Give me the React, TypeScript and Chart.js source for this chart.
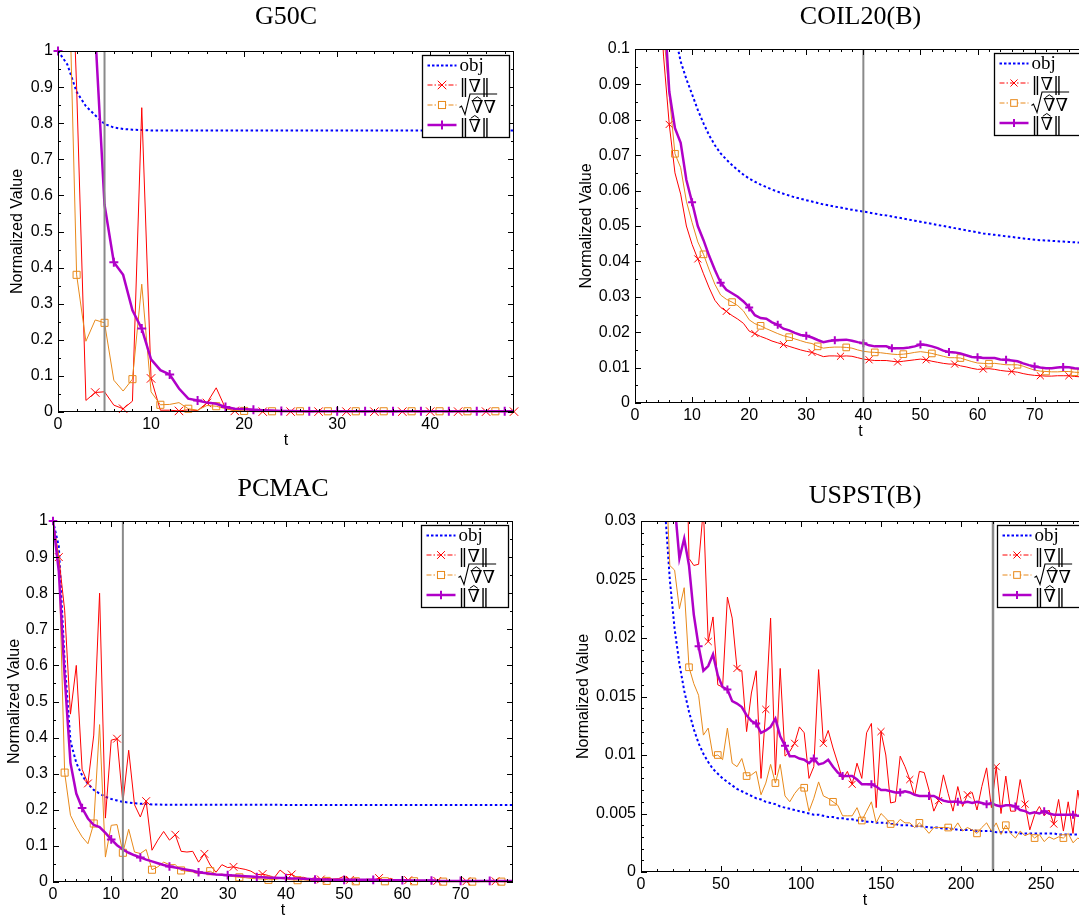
import React, { useEffect, useRef } from "react";
import { Chart, registerables } from "chart.js";

Chart.register(...registerables);

// ---------------- G50C ----------------
const g50cObj = [
  1, 0.963, 0.887, 0.847, 0.822, 0.798, 0.788, 0.784, 0.782, 0.781,
  0.78, 0.78, 0.78, 0.78, 0.78, 0.78, 0.78, 0.78, 0.78, 0.78,
  0.78, 0.78, 0.78, 0.78, 0.78, 0.78, 0.78, 0.78, 0.78, 0.78,
  0.78, 0.78, 0.78, 0.78, 0.78, 0.78, 0.78, 0.78, 0.78, 0.78,
  0.78, 0.78, 0.78, 0.78, 0.78, 0.78, 0.78, 0.78, 0.78, 0.78,
];
const g50cGrad = [
  1, 1.6, 0.9, 0.032, 0.054, 0.056, 0.019, 0.009, 0.03, 0.843,
  0.093, 0.005, 0.005, 0.003, 0.006, 0.004, 0.025, 0.067, 0.01, 0.003,
  0.002, 0.001, 0.001, 0.001, 0.001, 0.001, 0.001, 0.001, 0.001, 0.001,
  0.001, 0.001, 0.001, 0.001, 0.001, 0.001, 0.001, 0.001, 0.001, 0.001,
  0.001, 0.001, 0.001, 0.001, 0.001, 0.001, 0.001, 0.001, 0.001, 0.001,
];
const g50cSqrt = [
  1, 1.4, 0.38, 0.196, 0.255, 0.247, 0.088, 0.058, 0.091, 0.354,
  0.056, 0.02, 0.021, 0.026, 0.009, 0.005, 0.018, 0.016, 0.009, 0.004,
  0.003, 0.002, 0.002, 0.002, 0.002, 0.002, 0.002, 0.002, 0.002, 0.002,
  0.002, 0.002, 0.002, 0.002, 0.002, 0.002, 0.002, 0.002, 0.002, 0.002,
  0.002, 0.002, 0.002, 0.002, 0.002, 0.002, 0.002, 0.002, 0.002, 0.002,
];
const g50cHat = [
  1, 1.6, 1.55, 1.45, 1.05, 0.574, 0.415, 0.38, 0.282, 0.231,
  0.146, 0.116, 0.104, 0.065, 0.037, 0.032, 0.026, 0.023, 0.014, 0.009,
  0.008, 0.006, 0.005, 0.004, 0.003, 0.003, 0.002, 0.002, 0.002, 0.002,
  0.002, 0.002, 0.002, 0.002, 0.002, 0.002, 0.002, 0.002, 0.002, 0.002,
  0.002, 0.002, 0.002, 0.002, 0.002, 0.002, 0.002, 0.002, 0.002, 0.002,
];
const g50cXTicks = [0, 10, 20, 30, 40];
const g50cYTicks = [0, 0.1, 0.2, 0.3, 0.4, 0.5, 0.6, 0.7, 0.8, 0.9, 1];
const g50cYLabels = ["0", "0.1", "0.2", "0.3", "0.4", "0.5", "0.6", "0.7", "0.8", "0.9", "1"];

// ---------------- COIL20(B) ----------------
const coilObj = [
  1, 0.6, 0.35, 0.23, 0.17, 0.135, 0.115, 0.104, 0.0965, 0.0915,
  0.0872, 0.0828, 0.079, 0.0756, 0.0728, 0.0705, 0.0688, 0.0672, 0.0658, 0.0645,
  0.0634, 0.0625, 0.0617, 0.061, 0.0603, 0.0597, 0.0591, 0.0586, 0.0581, 0.0577,
  0.0573, 0.0569, 0.0565, 0.0561, 0.0558, 0.0555, 0.0552, 0.0549, 0.0546, 0.0543,
  0.0541, 0.0538, 0.0535, 0.0532, 0.053, 0.0527, 0.0524, 0.0521, 0.0518, 0.0515,
  0.0512, 0.0509, 0.0506, 0.0503, 0.05, 0.0497, 0.0494, 0.0491, 0.0488, 0.0485,
  0.0482, 0.0479, 0.0477, 0.0475, 0.0473, 0.0471, 0.0469, 0.0467, 0.0465, 0.0463,
  0.0461, 0.046, 0.0459, 0.0458, 0.0457, 0.0456, 0.0455, 0.0454, 0.0453, 0.0452,
];
const coilGrad = [
  1, 0.6, 0.35, 0.2, 0.125, 0.098, 0.0787, 0.065, 0.059, 0.05,
  0.0448, 0.0407, 0.0365, 0.0325, 0.029, 0.027, 0.0259, 0.0247, 0.0237, 0.0225,
  0.0203, 0.0196, 0.0188, 0.0182, 0.0175, 0.017, 0.0165, 0.016, 0.0155, 0.015,
  0.0146, 0.0143, 0.0137, 0.0131, 0.0133, 0.0133, 0.0132, 0.0133, 0.0132, 0.0128,
  0.0124, 0.0122, 0.012, 0.012, 0.012, 0.0118, 0.0116, 0.0118, 0.012, 0.0122,
  0.0124, 0.0122, 0.0118, 0.0115, 0.0112, 0.011, 0.011, 0.0105, 0.0102, 0.0098,
  0.0095, 0.0096, 0.0097, 0.0095, 0.0092, 0.009, 0.0089, 0.0087, 0.0083, 0.008,
  0.0078, 0.0077, 0.0076, 0.0076, 0.0077, 0.0077, 0.0077, 0.0075, 0.0074, 0.0073,
];
const coilSqrt = [
  1, 0.65, 0.38, 0.22, 0.14, 0.105, 0.087, 0.0704, 0.0665, 0.057,
  0.051, 0.0455, 0.042, 0.0376, 0.0335, 0.0305, 0.0293, 0.0285, 0.0275, 0.026,
  0.0235, 0.0224, 0.0218, 0.021, 0.0203, 0.0196, 0.019, 0.0186, 0.0181, 0.0176,
  0.0171, 0.0168, 0.016, 0.0155, 0.0157, 0.0158, 0.0158, 0.0157, 0.0155, 0.015,
  0.0146, 0.0144, 0.0143, 0.0142, 0.014, 0.0138, 0.0137, 0.0138, 0.014, 0.0143,
  0.0145, 0.0143, 0.014, 0.0136, 0.0132, 0.0128, 0.0128, 0.0127, 0.0122, 0.0117,
  0.0113, 0.0112, 0.0111, 0.0112, 0.011, 0.0108, 0.0108, 0.0108, 0.0104, 0.0098,
  0.0093, 0.009, 0.0089, 0.0088, 0.0088, 0.0089, 0.0089, 0.0087, 0.0086, 0.0085,
];
const coilHat = [
  1, 0.7, 0.42, 0.26, 0.165, 0.115, 0.088, 0.0776, 0.0735, 0.063,
  0.0567, 0.05, 0.046, 0.0415, 0.0376, 0.034, 0.032, 0.031, 0.03, 0.0287,
  0.027, 0.0248, 0.024, 0.0238, 0.0228, 0.0221, 0.021, 0.0205, 0.0198, 0.0192,
  0.019, 0.0185, 0.0178, 0.0172, 0.0175, 0.0177, 0.0178, 0.0179, 0.0176, 0.0172,
  0.0169, 0.0163, 0.016, 0.016, 0.016, 0.0155, 0.0155, 0.0155, 0.0157, 0.016,
  0.0165, 0.0164, 0.016, 0.0155, 0.0148, 0.0144, 0.0143, 0.014, 0.0135, 0.013,
  0.0129, 0.0127, 0.0127, 0.0127, 0.0123, 0.0122, 0.012, 0.0118, 0.0112, 0.0107,
  0.0103, 0.01, 0.0098, 0.0098, 0.01, 0.0102, 0.0101, 0.0098, 0.0097, 0.0096,
];
const coilXTicks = [0, 10, 20, 30, 40, 50, 60, 70];
const coilYTicks = [0, 0.01, 0.02, 0.03, 0.04, 0.05, 0.06, 0.07, 0.08, 0.09, 0.1];
const coilYLabels = ["0", "0.01", "0.02", "0.03", "0.04", "0.05", "0.06", "0.07", "0.08", "0.09", "0.1"];

// ---------------- PCMAC ----------------
const pcmacObj = [
  1, 0.93, 0.61, 0.39, 0.33, 0.295, 0.272, 0.255, 0.245, 0.236,
  0.23, 0.226, 0.222, 0.22, 0.218, 0.217, 0.216, 0.215, 0.215, 0.214,
  0.214, 0.214, 0.214, 0.214, 0.214, 0.214, 0.214, 0.214, 0.214, 0.214,
  0.214, 0.214, 0.214, 0.214, 0.214, 0.214, 0.214, 0.214, 0.214, 0.214,
  0.213, 0.213, 0.213, 0.213, 0.213, 0.213, 0.213, 0.213, 0.213, 0.213,
  0.213, 0.213, 0.213, 0.213, 0.213, 0.213, 0.213, 0.213, 0.213, 0.213,
  0.213, 0.213, 0.213, 0.213, 0.213, 0.213, 0.213, 0.213, 0.213, 0.213,
  0.213, 0.213, 0.213, 0.213, 0.213, 0.213, 0.213, 0.213, 0.213, 0.213,
];
const pcmacGrad = [
  1, 0.9, 0.753, 0.465, 0.6, 0.312, 0.273, 0.407, 0.8, 0.177,
  0.393, 0.397, 0.22, 0.365, 0.214, 0.18, 0.224, 0.088, 0.116, 0.14,
  0.116, 0.131, 0.085, 0.083, 0.085, 0.055, 0.078, 0.047, 0.027, 0.048,
  0.04, 0.042, 0.038, 0.035, 0.03, 0.02, 0.022, 0.018, 0.012, 0.033,
  0.02, 0.021, 0.012, 0.013, 0.008, 0.012, 0.007, 0.01, 0.008, 0.009,
  0.016, 0.006, 0.009, 0.004, 0.008, 0.005, 0.011, 0.004, 0.01, 0.003,
  0.005, 0.005, 0.004, 0.002, 0.003, 0.005, 0.003, 0.002, 0.003, 0.002,
  0.003, 0.002, 0.002, 0.001, 0.002, 0.001, 0.002, 0.001, 0.001, 0.001,
];
const pcmacSqrt = [
  1, 0.9, 0.303, 0.185, 0.152, 0.125, 0.106, 0.162, 0.436, 0.069,
  0.157, 0.159, 0.081, 0.146, 0.083, 0.079, 0.09, 0.034, 0.042, 0.055,
  0.048, 0.048, 0.032, 0.03, 0.028, 0.022, 0.026, 0.03, 0.02, 0.022,
  0.018, 0.015, 0.013, 0.012, 0.01, 0.009, 0.008, 0.006, 0.007, 0.01,
  0.008, 0.006, 0.005, 0.006, 0.004, 0.005, 0.004, 0.003, 0.004, 0.003,
  0.004, 0.003, 0.002, 0.003, 0.002, 0.003, 0.002, 0.002, 0.003, 0.002,
  0.002, 0.002, 0.002, 0.001, 0.002, 0.001, 0.002, 0.001, 0.001, 0.001,
  0.001, 0.001, 0.001, 0.001, 0.001, 0.001, 0.001, 0.001, 0.001, 0.001,
];
const pcmacHat = [
  1, 0.86, 0.57, 0.33, 0.245, 0.205, 0.176, 0.158, 0.152, 0.136,
  0.118, 0.102, 0.09, 0.081, 0.074, 0.068, 0.062, 0.057, 0.052, 0.047,
  0.043, 0.04, 0.037, 0.034, 0.031, 0.027, 0.025, 0.023, 0.021, 0.02,
  0.019, 0.018, 0.017, 0.016, 0.015, 0.014, 0.013, 0.012, 0.012, 0.011,
  0.011, 0.01, 0.01, 0.009, 0.008, 0.007, 0.007, 0.007, 0.006, 0.006,
  0.006, 0.006, 0.006, 0.006, 0.006, 0.006, 0.005, 0.005, 0.005, 0.005,
  0.005, 0.004, 0.004, 0.004, 0.004, 0.004, 0.003, 0.003, 0.003, 0.003,
  0.003, 0.003, 0.003, 0.003, 0.003, 0.003, 0.003, 0.003, 0.003, 0.003,
];
const pcmacXTicks = [0, 10, 20, 30, 40, 50, 60, 70];
const pcmacYTicks = [0, 0.1, 0.2, 0.3, 0.4, 0.5, 0.6, 0.7, 0.8, 0.9, 1];
const pcmacYLabels = ["0", "0.1", "0.2", "0.3", "0.4", "0.5", "0.6", "0.7", "0.8", "0.9", "1"];

// ---------------- USPST(B) (t = 0, 3, 6, ...) ----------------
const uspstObj = [
  1, 0.2, 0.08, 0.05, 0.037, 0.031, 0.025, 0.0208, 0.0178, 0.0155,
  0.0137, 0.0122, 0.011, 0.0101, 0.0094, 0.0088, 0.0084, 0.008, 0.0077, 0.0074,
  0.0071, 0.0069, 0.0067, 0.0065, 0.0063, 0.0062, 0.006, 0.0059, 0.0058, 0.0056,
  0.0055, 0.0054, 0.0053, 0.0052, 0.0051, 0.005, 0.0049, 0.0049, 0.0048, 0.0047,
  0.0047, 0.0046, 0.0046, 0.0045, 0.0045, 0.0044, 0.0044, 0.0043, 0.0043, 0.0042,
  0.0042, 0.0042, 0.0041, 0.0041, 0.004, 0.004, 0.004, 0.0039, 0.0039, 0.0039,
  0.0038, 0.0038, 0.0038, 0.0037, 0.0037, 0.0037, 0.0036, 0.0036, 0.0036, 0.0036,
  0.0035, 0.0035, 0.0035, 0.0035, 0.0034, 0.0034, 0.0034, 0.0034, 0.0034, 0.0033,
  0.0033, 0.0033, 0.0033, 0.0033, 0.0033, 0.0033, 0.0033, 0.0032, 0.0032, 0.0032,
  0.0032, 0.0032, 0.0032, 0.0032,
];
const uspstGrad = [
  1, 0.45, 0.2, 0.13, 0.095, 0.08, 0.07, 0.06, 0.052, 0.0456,
  0.0268, 0.0262, 0.0263, 0.0311, 0.0197, 0.0218, 0.016, 0.0158, 0.0235, 0.0217,
  0.0174, 0.0172, 0.012, 0.0153, 0.0172, 0.008, 0.0139, 0.0217, 0.0083, 0.0174,
  0.0099, 0.0103, 0.011, 0.0124, 0.0119, 0.008, 0.009, 0.0173, 0.011, 0.0121,
  0.0106, 0.0093, 0.0079, 0.0086, 0.0075, 0.0093, 0.008, 0.0119, 0.0127, 0.0055,
  0.012, 0.01, 0.0059, 0.006, 0.0099, 0.009, 0.0079, 0.0065, 0.0086, 0.0085,
  0.007, 0.0052, 0.0061, 0.0083, 0.0067, 0.0052, 0.0073, 0.0056, 0.0066, 0.0068,
  0.0053, 0.0073, 0.0089, 0.0055, 0.009, 0.005, 0.0082, 0.0052, 0.0052, 0.0079,
  0.0058, 0.0036, 0.0049, 0.0056, 0.0048, 0.0053, 0.0041, 0.0062, 0.0035, 0.006,
  0.0033, 0.007, 0.0045, 0.005,
];
const uspstSqrt = [
  1, 0.4, 0.15, 0.08, 0.05, 0.036, 0.0262, 0.0258, 0.0225, 0.0243,
  0.0175, 0.0161, 0.0151, 0.0117, 0.0123, 0.0099, 0.01, 0.0096, 0.0123, 0.0093,
  0.009, 0.0097, 0.0082, 0.0083, 0.0086, 0.0066, 0.0076, 0.0092, 0.0076, 0.0092,
  0.0065, 0.006, 0.0067, 0.0072, 0.0072, 0.0052, 0.0063, 0.0077, 0.0065, 0.0063,
  0.006, 0.0057, 0.0048, 0.0048, 0.0048, 0.0055, 0.0044, 0.0052, 0.006, 0.0042,
  0.005, 0.0046, 0.0041, 0.004, 0.0045, 0.0042, 0.0042, 0.0038, 0.0042, 0.0038,
  0.0033, 0.0038, 0.0038, 0.0038, 0.0038, 0.0036, 0.0042, 0.0035, 0.0038, 0.0036,
  0.0033, 0.0038, 0.0042, 0.0035, 0.0042, 0.0032, 0.004, 0.0033, 0.0029, 0.0035,
  0.0031, 0.0033, 0.0029, 0.0032, 0.0026, 0.003, 0.0028, 0.003, 0.0029, 0.0033,
  0.0025, 0.0029, 0.0027, 0.003,
];
const uspstHat = [
  1, 0.5, 0.2, 0.1, 0.06, 0.045, 0.036, 0.0315, 0.0268, 0.0285,
  0.0262, 0.022, 0.0193, 0.0172, 0.0176, 0.0186, 0.0168, 0.0158, 0.0156, 0.0146,
  0.0144, 0.0141, 0.0134, 0.0129, 0.0127, 0.0119, 0.0121, 0.0124, 0.0131, 0.0116,
  0.0108, 0.0099, 0.0099, 0.0097, 0.0096, 0.0093, 0.0097, 0.0092, 0.0093, 0.0096,
  0.009, 0.0085, 0.0082, 0.0082, 0.0082, 0.0079, 0.0075, 0.0075, 0.0075, 0.0073,
  0.007, 0.007, 0.0069, 0.0068, 0.0068, 0.0069, 0.0068, 0.0066, 0.0065, 0.0065,
  0.0065, 0.0065, 0.0063, 0.0061, 0.006, 0.006, 0.006, 0.0059, 0.006, 0.0059,
  0.006, 0.0059, 0.0058, 0.0059, 0.0057, 0.0056, 0.0057, 0.0057, 0.0056, 0.0053,
  0.0052, 0.005, 0.0051, 0.005, 0.0052, 0.005, 0.0049, 0.0049, 0.0049, 0.0049,
  0.0049, 0.0048, 0.0048, 0.0047,
];
const uspstXTicks = [0, 50, 100, 150, 200, 250];
const uspstYTicks = [0, 0.005, 0.01, 0.015, 0.02, 0.025, 0.03];
const uspstYLabels = ["0", "0.005", "0.01", "0.015", "0.02", "0.025", "0.03"];

// ---------------- styling ----------------
const BLUE = "#0000ff";
const RED = "#ff0000";
const ORANGE = "#e8891a";
const PURPLE = "#b000c8";
const GRAY = "#8a8a8a";
const TICK_FONT = "16px 'Liberation Sans', Arial, Helvetica, sans-serif";
const TITLE_FONT = "26px 'Liberation Serif', 'Times New Roman', serif";
const MATH_FONT = "18px 'DejaVu Serif', serif";
const PAD = { l: 80, t: 55, r: 20, b: 45 };

type Panel = {
  id: string; title: string;
  left: number; top: number; right: number; bottom: number;
  xMax: number; yMax: number; step: number;
  obj: number[]; grad: number[]; sq: number[]; hat: number[];
  every: number; offGrad: number; offSq: number; offHat: number;
  xTicks: number[]; yTicks: number[]; yLabels: string[];
  xMinor: number; yMinor: number;
  vline: number; vlineWidth: number;
  titleDY: number; yTitleDX: number;
  mk: { x: number; s: number; p: number };
};

const PANELS: Panel[] = [
  {
    id: "g50c", title: "G50C", left: 58, top: 51, right: 514, bottom: 412,
    xMax: 49, yMax: 1, step: 1, obj: g50cObj, grad: g50cGrad, sq: g50cSqrt, hat: g50cHat,
    every: 3, offGrad: 1, offSq: 2, offHat: 0,
    xTicks: g50cXTicks, yTicks: g50cYTicks, yLabels: g50cYLabels, xMinor: 2, yMinor: 0.05,
    vline: 5, vlineWidth: 2, titleDY: -34, yTitleDX: -40, mk: { x: 6, s: 5, p: 4.5 },
  },
  {
    id: "coil", title: "COIL20(B)", left: 635, top: 49, right: 1086, bottom: 403,
    xMax: 79, yMax: 0.1, step: 1, obj: coilObj, grad: coilGrad, sq: coilSqrt, hat: coilHat,
    every: 5, offGrad: 1, offSq: 2, offHat: 0,
    xTicks: coilXTicks, yTicks: coilYTicks, yLabels: coilYLabels, xMinor: 2, yMinor: 0.005,
    vline: 40, vlineWidth: 2, titleDY: -32, yTitleDX: -48, mk: { x: 5, s: 4.7, p: 4 },
  },
  {
    id: "pcmac", title: "PCMAC", left: 53, top: 521, right: 513, bottom: 882,
    xMax: 79, yMax: 1, step: 1, obj: pcmacObj, grad: pcmacGrad, sq: pcmacSqrt, hat: pcmacHat,
    every: 5, offGrad: 1, offSq: 2, offHat: 0,
    xTicks: pcmacXTicks, yTicks: pcmacYTicks, yLabels: pcmacYLabels, xMinor: 2, yMinor: 0.05,
    vline: 12, vlineWidth: 2, titleDY: -32, yTitleDX: -38, mk: { x: 5.5, s: 5, p: 4.3 },
  },
  {
    id: "uspst", title: "USPST(B)", left: 641, top: 521, right: 1089, bottom: 872,
    xMax: 280, yMax: 0.03, step: 3, obj: uspstObj, grad: uspstGrad, sq: uspstSqrt, hat: uspstHat,
    every: 6, offGrad: 2, offSq: 4, offHat: 0,
    xTicks: uspstXTicks, yTicks: uspstYTicks, yLabels: uspstYLabels, xMinor: 10, yMinor: 0.001,
    vline: 220, vlineWidth: 2.5, titleDY: -25, yTitleDX: -57, mk: { x: 5, s: 4.7, p: 4 },
  },
];

function drawCross(ctx: CanvasRenderingContext2D, x: number, y: number, r: number, color: string) {
  const d = r * Math.SQRT1_2;
  ctx.strokeStyle = color; ctx.lineWidth = 1; ctx.setLineDash([]);
  ctx.beginPath();
  ctx.moveTo(x - d, y - d); ctx.lineTo(x + d, y + d);
  ctx.moveTo(x - d, y + d); ctx.lineTo(x + d, y - d);
  ctx.stroke();
}
function drawSquare(ctx: CanvasRenderingContext2D, x: number, y: number, r: number, color: string) {
  const d = r * Math.SQRT1_2;
  ctx.strokeStyle = color; ctx.lineWidth = 1; ctx.setLineDash([]);
  ctx.fillStyle = "#fff";
  ctx.fillRect(x - d, y - d, 2 * d, 2 * d);
  ctx.strokeRect(x - d, y - d, 2 * d, 2 * d);
}
function drawPlus(ctx: CanvasRenderingContext2D, x: number, y: number, r: number, color: string) {
  ctx.strokeStyle = color; ctx.lineWidth = 2; ctx.setLineDash([]);
  ctx.beginPath();
  ctx.moveTo(x - r, y); ctx.lineTo(x + r, y);
  ctx.moveTo(x, y - r); ctx.lineTo(x, y + r);
  ctx.stroke();
}
function drawHatMark(ctx: CanvasRenderingContext2D, cx: number, y: number) {
  ctx.strokeStyle = "#000"; ctx.lineWidth = 1; ctx.setLineDash([]);
  ctx.beginPath();
  ctx.moveTo(cx - 4, y + 2.8); ctx.lineTo(cx, y); ctx.lineTo(cx + 4, y + 2.8);
  ctx.stroke();
}

function drawLegend(ctx: CanvasRenderingContext2D, right: number, top: number, p: Panel) {
  const bx = Math.round(right) - 92 + 0.5;
  const by = Math.round(top) + 4 + 0.5;
  const bw = 87, bh = 82;
  ctx.save();
  ctx.setLineDash([]);
  ctx.fillStyle = "#fff";
  ctx.fillRect(bx, by, bw, bh);
  ctx.strokeStyle = "#000";
  ctx.lineWidth = 1.3;
  ctx.strokeRect(bx, by, bw, bh);
  const rows = [by + 10, by + 29.5, by + 49.5, by + 69.5];
  const x0 = bx + 5, x1 = bx + 34, xm = (x0 + x1) / 2, tx = bx + 37;
  const seg = (y: number, color: string, w: number, dash: number[]) => {
    ctx.strokeStyle = color; ctx.lineWidth = w; ctx.setLineDash(dash);
    ctx.beginPath(); ctx.moveTo(x0, y); ctx.lineTo(x1, y); ctx.stroke();
    ctx.setLineDash([]);
  };
  seg(rows[0], BLUE, 2, [2.5, 2]);
  seg(rows[1], RED, 1, [5, 2, 1.5, 2]);
  drawCross(ctx, xm, rows[1], p.mk.x, RED);
  seg(rows[2], ORANGE, 1, [5, 2, 1.5, 2]);
  drawSquare(ctx, xm, rows[2], p.mk.s, ORANGE);
  seg(rows[3], PURPLE, 2.5, []);
  drawPlus(ctx, xm, rows[3], p.mk.p, PURPLE);

  ctx.fillStyle = "#000";
  ctx.textAlign = "left";
  ctx.textBaseline = "alphabetic";
  ctx.font = "19px 'Liberation Serif', serif";
  ctx.fillText("obj", tx, rows[0] + 5);
  ctx.font = MATH_FONT;
  ctx.fillText("\u2016\u2207\u2016", tx, rows[1] + 6.5);
  const nab = ctx.measureText("\u2207").width;
  const bar = ctx.measureText("\u2016").width;
  // square-root sign with overline
  const rx = tx;
  const oy = rows[2] - 11;
  ctx.strokeStyle = "#000"; ctx.lineWidth = 1.1;
  ctx.beginPath();
  ctx.moveTo(rx, rows[2] + 2.5);
  ctx.lineTo(rx + 2, rows[2] + 1);
  ctx.lineTo(rx + 5.5, rows[2] + 9.5);
  ctx.lineTo(rx + 10.5, oy);
  ctx.lineTo(rx + 11.5 + 2 * nab + 1, oy);
  ctx.stroke();
  ctx.fillText("\u2207\u2207", rx + 11.5, rows[2] + 8);
  drawHatMark(ctx, rx + 11.5 + nab / 2, rows[2] - 8.2);
  // hat norm
  ctx.fillText("\u2016\u2207\u2016", tx, rows[3] + 7);
  drawHatMark(ctx, tx + bar + nab / 2, rows[3] - 9.5);
  ctx.restore();
}

function makeDecor(p: Panel) {
  return {
    id: "decor_" + p.id,
    afterDraw(chart: any) {
      const ctx = chart.ctx as CanvasRenderingContext2D;
      const { left, top, right, bottom } = chart.chartArea;
      const xs = chart.scales.x;
      const ys = chart.scales.y;
      ctx.save();
      // vertical reference line
      const vx = xs.getPixelForValue(p.vline);
      ctx.strokeStyle = GRAY; ctx.lineWidth = p.vlineWidth; ctx.setLineDash([]);
      ctx.beginPath(); ctx.moveTo(vx, top); ctx.lineTo(vx, bottom); ctx.stroke();

      // box
      ctx.strokeStyle = "#000"; ctx.lineWidth = 1;
      ctx.strokeRect(left + 0.5, top + 0.5, right - left - 1, bottom - top - 1);

      // ticks (inside, on all four sides)
      const isMajor = (v: number, arr: number[]) => arr.some((m) => Math.abs(m - v) < 1e-9);
      ctx.beginPath();
      const xTick = (v: number, len: number) => {
        const x = Math.round(xs.getPixelForValue(v)) + 0.5;
        ctx.moveTo(x, bottom); ctx.lineTo(x, bottom - len);
        ctx.moveTo(x, top); ctx.lineTo(x, top + len);
      };
      const yTick = (v: number, len: number) => {
        const y = Math.round(ys.getPixelForValue(v)) + 0.5;
        ctx.moveTo(left, y); ctx.lineTo(left + len, y);
        ctx.moveTo(right, y); ctx.lineTo(right - len, y);
      };
      p.xTicks.forEach((v) => xTick(v, 6));
      for (let i = 0; i * p.xMinor <= p.xMax + 1e-9; i++) {
        const v = i * p.xMinor;
        if (!isMajor(v, p.xTicks)) xTick(v, 3);
      }
      p.yTicks.forEach((v) => yTick(v, 6));
      for (let i = 0; i * p.yMinor <= p.yMax + 1e-12; i++) {
        const v = i * p.yMinor;
        if (!isMajor(v, p.yTicks)) yTick(v, 3);
      }
      ctx.stroke();

      // tick labels
      ctx.fillStyle = "#000";
      ctx.font = TICK_FONT;
      ctx.textAlign = "center";
      ctx.textBaseline = "middle";
      p.xTicks.forEach((v) => ctx.fillText(String(v), xs.getPixelForValue(v), bottom + 13));
      ctx.textAlign = "right";
      p.yTicks.forEach((v, i) => ctx.fillText(p.yLabels[i], left - 5, ys.getPixelForValue(v)));

      // axis titles
      ctx.textAlign = "center";
      ctx.fillText("t", (left + right) / 2, bottom + 29);
      ctx.save();
      ctx.translate(left + p.yTitleDX, (top + bottom) / 2);
      ctx.rotate(-Math.PI / 2);
      ctx.fillText("Normalized Value", 0, 0);
      ctx.restore();

      // panel title
      ctx.font = TITLE_FONT;
      ctx.fillText(p.title, (left + right) / 2, top + p.titleDY);
      ctx.restore();

      drawLegend(ctx, right, top, p);
    },
  };
}

function PanelChart({ p }: { p: Panel }) {
  const ref = useRef<HTMLCanvasElement | null>(null);
  const w = p.right - p.left + PAD.l + PAD.r;
  const h = p.bottom - p.top + PAD.t + PAD.b;
  useEffect(() => {
    const canvas = ref.current;
    if (!canvas) return;
    const pts = (arr: number[]) => arr.map((v, i) => ({ x: i * p.step, y: v }));
    const mpts = (arr: number[]) => arr.map((v, i) => ({ x: i * p.step, y: v <= p.yMax ? v : null }));
    const rad = (off: number, r: number) => (c: any) => (c.dataIndex % p.every === off ? r : 0);
    const lineClip = { left: 0, top: 0, right: 0, bottom: 3 };
    const chart = new Chart(canvas, {
      type: "line",
      data: {
        datasets: [
          { data: pts(p.obj), borderColor: BLUE, borderWidth: 2, borderDash: [2.5, 2.5], pointRadius: 0, order: 8, clip: lineClip },
          { data: pts(p.grad), borderColor: RED, borderWidth: 1, pointRadius: 0, order: 7, clip: lineClip },
          { data: mpts(p.grad), showLine: false, pointStyle: "crossRot", pointRadius: rad(p.offGrad, p.mk.x), pointBorderColor: RED, pointBackgroundColor: "rgba(0,0,0,0)", pointBorderWidth: 1, order: 6, clip: false },
          { data: pts(p.sq), borderColor: ORANGE, borderWidth: 1, pointRadius: 0, order: 5, clip: lineClip },
          { data: mpts(p.sq), showLine: false, pointStyle: "rect", pointRadius: rad(p.offSq, p.mk.s), pointBorderColor: ORANGE, pointBackgroundColor: "rgba(0,0,0,0)", pointBorderWidth: 1, order: 4, clip: false },
          { data: pts(p.hat), borderColor: PURPLE, borderWidth: 2.5, pointRadius: 0, order: 3, clip: lineClip },
          { data: mpts(p.hat), showLine: false, pointStyle: "cross", pointRadius: rad(p.offHat, p.mk.p), pointBorderColor: PURPLE, pointBackgroundColor: "rgba(0,0,0,0)", pointBorderWidth: 2, order: 2, clip: false },
        ],
      } as any,
      options: {
        responsive: false,
        animation: false,
        events: [],
        devicePixelRatio: 1,
        layout: { padding: { left: PAD.l, top: PAD.t, right: PAD.r, bottom: PAD.b } },
        elements: { line: { tension: 0 }, point: { hoverRadius: 0 } },
        scales: {
          x: { type: "linear", display: false, min: 0, max: p.xMax },
          y: { type: "linear", display: false, min: 0, max: p.yMax },
        },
        plugins: { legend: { display: false }, tooltip: { enabled: false }, title: { display: false } },
      } as any,
      plugins: [makeDecor(p)],
    });
    return () => chart.destroy();
  }, [p]);
  return (
    <canvas
      ref={ref}
      width={w}
      height={h}
      style={{ position: "absolute", left: p.left - PAD.l, top: p.top - PAD.t, width: w, height: h }}
    />
  );
}

export default function App() {
  return (
    <div style={{ position: "fixed", left: 0, top: 0, width: 1079, height: 919, overflow: "hidden", background: "#fff" }}>
      {PANELS.map((p) => (
        <PanelChart key={p.id} p={p} />
      ))}
    </div>
  );
}
